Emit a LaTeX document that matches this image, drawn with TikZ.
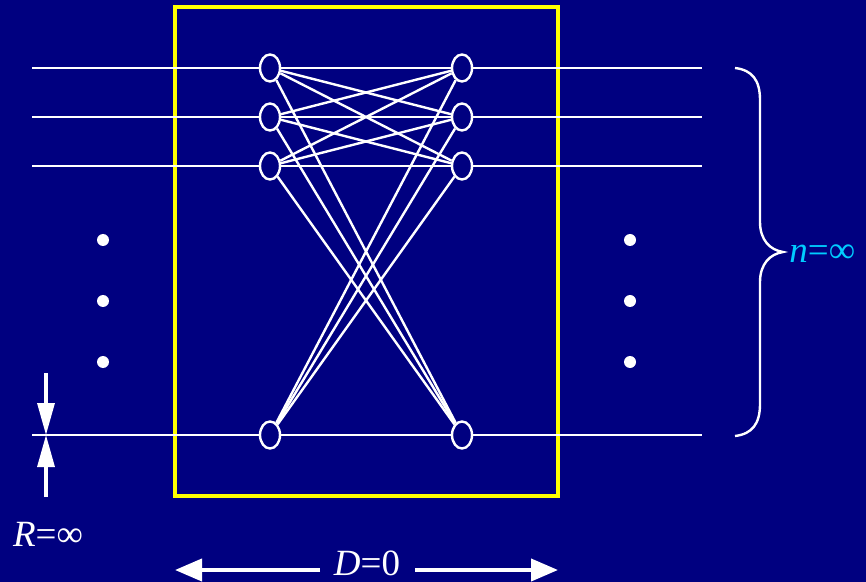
\documentclass[tikz,border=0pt]{standalone}
\usepackage{fontspec}
\setmainfont{Liberation Serif}
\usetikzlibrary{shapes.geometric,arrows.meta}
\definecolor{navybg}{RGB}{0,0,128}
\definecolor{labelcyan}{RGB}{0,204,255}
\definecolor{boxyellow}{RGB}{255,255,0}
\tikzset{
  wire/.style={draw=white, line width=1.2pt},
  port/.style={ellipse, draw=white, line width=1.2pt, fill=navybg, minimum width=10pt, minimum height=13.5pt, inner sep=0pt},
  dot/.style={circle, fill=white, minimum size=6pt, inner sep=0pt},
  lbl/.style={text=white, font=\fontsize{18.5}{22}\selectfont, inner sep=1pt},
  bigarrow/.style={draw=white, line width=1.6pt, -{Triangle[width=8.5pt,length=16pt]}},
  widearrow/.style={draw=white, line width=2pt, -{Triangle[width=11pt,length=13.5pt]}}
}

\begin{document}
\begin{tikzpicture}[x=0.5pt, y=-0.5pt]
  \fill[navybg] (0,0) rectangle (866,582);
  \useasboundingbox (0,0) rectangle (866,582);

  % enclosure
  \draw[boxyellow, line width=2pt] (175,7) rectangle (558,496);

  % ports and wires
  \foreach \i/\y in {1/68, 2/117, 3/166, 4/435} {
    \coordinate (in\i) at (32,\y);
    \coordinate (out\i) at (702,\y);
    \node[port] (L\i) at (270,\y) {};
    \node[port] (R\i) at (462,\y) {};
    \draw[wire] (in\i) -- (L\i) -- (R\i) -- (out\i);
  }
  \foreach \i in {1,...,4}
    \foreach \j in {1,...,4}
      \draw[wire] (L\i) -- (R\j);

  % dots
  \foreach \y [count=\k] in {240, 301, 362} {
    \node[dot] (dl\k) at (103,\y) {};
    \node[dot] (dr\k) at (630,\y) {};
  }

  % brace
  \draw[white, line width=1.2pt] (735,68) .. controls (752,70) and (760,80) .. (760,100)
    -- (760,222) .. controls (760,240) and (770,250) .. (783,252)
    .. controls (770,254) and (760,264) .. (760,282)
    -- (760,404) .. controls (760,424) and (752,434) .. (735,436);
  \node[lbl, text=labelcyan, anchor=west] (nlbl) at (787,254) {\textit{n}=∞};

  % R arrows
  \coordinate (rtip) at (46,435);
  \coordinate (rtop) at (46,373);
  \coordinate (rbot) at (46,497);
  \draw[bigarrow] (rtop) -- (rtip);
  \draw[bigarrow] (rbot) -- (rtip);
  \node[lbl] (rlbl) at (48,534) {\textit{R}=∞};

  % D arrows
  \node[lbl, inner sep=0pt] (dlbl) at (367,563) {\textit{D}=0};
  \coordinate (dleft) at (175,570);
  \coordinate (dright) at (558,570);
  \draw[widearrow] (320,570) -- (dleft);
  \draw[widearrow] (415,570) -- (dright);
\end{tikzpicture}
\end{document}
